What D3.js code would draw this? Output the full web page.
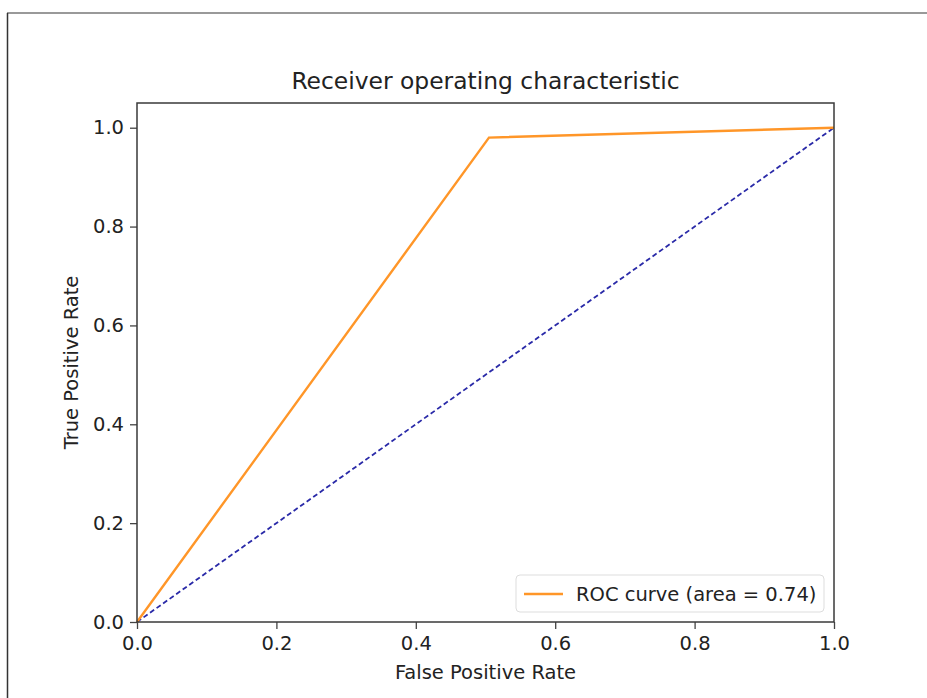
<!DOCTYPE html>
<html>
<head>
<meta charset="utf-8">
<script src="https://cdn.jsdelivr.net/npm/d3@7"></script>
<style>
  body { margin: 0; background: #fff; }
  text { font-family: "DejaVu Sans", sans-serif; fill: #222; }
</style>
</head>
<body>
<div id="chart-area"></div>
<script>
// ROC curve points
const fpr = [0, 0.505, 1]
const tpr = [0, 0.98, 1]
const chanceX = [0, 1]
const chanceY = [0, 1]
const ticks = [0, 0.2, 0.4, 0.6, 0.8, 1.0]
const legendLabel = 'ROC curve (area = 0.74)'

const W = 927, H = 698
const margin = {top: 103, right: 93, bottom: 76, left: 137}
const width = W - margin.left - margin.right
const height = H - margin.top - margin.bottom
const fs = 19.5

const svg = d3.select('#chart-area').append('svg')
  .attr('width', W)
  .attr('height', H)

// frame of the screenshot
svg.append('line').attr('x1', 7).attr('x2', W).attr('y1', 13).attr('y2', 13)
  .attr('stroke', '#777').attr('stroke-width', 1.5)
svg.append('line').attr('x1', 7.5).attr('x2', 7.5).attr('y1', 13).attr('y2', H)
  .attr('stroke', '#333').attr('stroke-width', 1.5)

const g = svg.append('g')
  .attr('transform', `translate(${margin.left},${margin.top})`)

const x = d3.scaleLinear().domain([0, 1]).range([0, width])
const y = d3.scaleLinear().domain([0, 1.05]).range([height, 0])

const xAxis = g.append('g')
  .attr('transform', `translate(0,${height})`)
  .call(d3.axisBottom(x).tickValues(ticks).tickFormat(d3.format('.1f')).tickSizeOuter(0).tickSize(7).tickPadding(6))
const yAxis = g.append('g')
  .call(d3.axisLeft(y).tickValues(ticks).tickFormat(d3.format('.1f')).tickSizeOuter(0).tickSize(7).tickPadding(6))

;[xAxis, yAxis].forEach(a => {
  a.select('.domain').remove()
  a.selectAll('line').attr('stroke', '#444').attr('stroke-width', 1.3)
  a.selectAll('text').attr('font-size', fs).attr('fill', '#222')
    .attr('font-family', '"DejaVu Sans", sans-serif')
})
xAxis.selectAll('text').attr('dy', '0.75em')

const line = d3.line().x(d => x(d[0])).y(d => y(d[1]))

g.append('path')
  .datum(d3.zip(chanceX, chanceY))
  .attr('d', line)
  .attr('fill', 'none')
  .attr('stroke', '#2a2aa8')
  .attr('stroke-width', 1.8)
  .attr('stroke-dasharray', '5,3')

g.append('path')
  .datum(d3.zip(fpr, tpr))
  .attr('d', line)
  .attr('fill', 'none')
  .attr('stroke', '#ff9628')
  .attr('stroke-width', 2.4)

// spines
g.append('rect')
  .attr('width', width).attr('height', height)
  .attr('fill', 'none').attr('stroke', '#3a3a3a').attr('stroke-width', 1.5)

// legend
const lg = g.append('g').attr('transform', `translate(${516 - margin.left},${575 - margin.top})`)
lg.append('rect').attr('width', 308).attr('height', 37).attr('rx', 4)
  .attr('fill', '#fff').attr('fill-opacity', 0.8).attr('stroke', '#ddd')
lg.append('line').attr('x1', 8).attr('x2', 47).attr('y1', 19).attr('y2', 19)
  .attr('stroke', '#ff9628').attr('stroke-width', 2.4)
lg.append('text').attr('x', 60).attr('y', 26).attr('font-size', fs).text(legendLabel)

// title and axis labels
svg.append('text').attr('x', margin.left + width / 2).attr('y', 89)
  .attr('text-anchor', 'middle').attr('font-size', 23.4).text('Receiver operating characteristic')
svg.append('text').attr('x', margin.left + width / 2).attr('y', 679)
  .attr('text-anchor', 'middle').attr('font-size', fs).text('False Positive Rate')
svg.append('text')
  .attr('transform', `translate(78,${margin.top + height / 2}) rotate(-90)`)
  .attr('text-anchor', 'middle').attr('font-size', fs).text('True Positive Rate')
</script>
</body>
</html>
